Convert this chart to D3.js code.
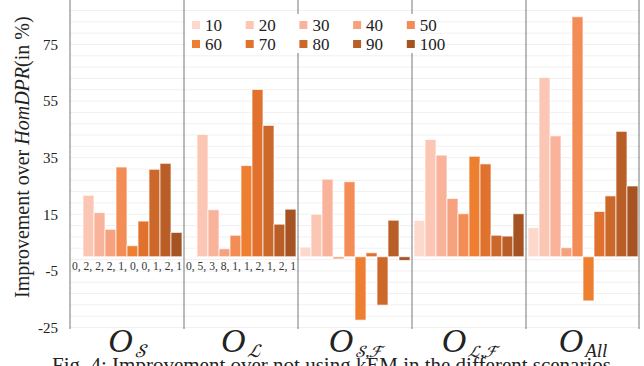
<!DOCTYPE html>
<html><head><meta charset="utf-8">
<script src="https://cdn.jsdelivr.net/npm/d3@7/dist/d3.min.js"></script>
<style>
html,body{margin:0;padding:0;background:#fff;overflow:hidden;}
svg{display:block;}
</style></head>
<body><svg id="c" width="644" height="366"></svg>
<script>
const seriesNames = ["10","20","30","40","50","60","70","80","90","100"];
const seriesColors = ["#fdd8cc","#fbc6b4","#f9b39b","#f7a27f","#f48d55","#ee7f31","#e0722d","#cc6829","#b95e26","#a55322"];
const groups = ["OS","OL","OSF","OLF","OAll"];
const valuesOS   = [0, 21.7, 15.6, 9.7, 31.7, 3.9, 12.6, 30.9, 33.0, 8.6];
const valuesOL   = [0, 43.2, 16.6, 2.8, 7.6, 32.2, 59.1, 46.4, 11.5, 16.8];
const valuesOSF  = [3.4, 15.0, 27.4, -0.8, 26.5, -22.4, 1.4, -17.1, 12.9, -1.3];
const valuesOLF  = [12.8, 41.4, 35.9, 20.6, 15.2, 35.5, 32.8, 7.6, 7.3, 15.2];
const valuesOAll = [10.3, 63.3, 42.7, 3.2, 84.8, -15.6, 16.0, 21.5, 44.3, 25.0];
const annotations = ["0, 2, 2, 2, 1, 0, 0, 1, 2, 1", "0, 5, 3, 8, 1, 1, 2, 1, 2, 1", "", "", ""];
const yTicks = [-25, -5, 15, 35, 55, 75];
const groupSubs = ["𝒮", "ℒ", "𝒮,ℱ", "ℒ,ℱ", "All"];

const SERIF = "'Liberation Serif', 'Times New Roman', serif";
const MATH = "'STIX Two Math', 'Liberation Serif', serif";
const allValues = [valuesOS, valuesOL, valuesOSF, valuesOLF, valuesOAll];
const svg = d3.select("#c").style("font-family", SERIF);

const x0 = d3.scaleBand().domain(groups).range([70, 640]).padding(0);
const x1 = d3.scaleBand().domain(seriesNames).range([2, 112]).padding(0);
const y = d3.scaleLinear().domain([-25, 90]).range([327.5, 2]);
const color = d3.scaleOrdinal().domain(seriesNames).range(seriesColors);

// faint gridlines
const grid = d3.range(-25, 90, 4);
svg.append("g").selectAll("line").data(grid).join("line")
  .attr("x1", 70).attr("x2", 640)
  .attr("y1", d => y(d)).attr("y2", d => y(d))
  .attr("stroke", "#f0f0f0").attr("stroke-width", 1);

// y axis labels
const yAxis = d3.axisLeft(y).tickValues(yTicks).tickSize(0).tickPadding(0).tickFormat(d => String(d));
const ya = svg.append("g").attr("transform", "translate(58,0)").call(yAxis);
ya.select(".domain").remove();
ya.attr("font-family", null);
ya.selectAll("text").style("font-family", SERIF).attr("font-size", 15).attr("fill", "#222");

// y title
const yt = svg.append("text")
  .attr("transform", "translate(29,298) rotate(-90)")
  .style("font-family", SERIF)
  .attr("font-size", 20).attr("fill", "#222");
yt.append("tspan").text("Improvement over ");
yt.append("tspan").attr("font-style", "italic").text("HomDPR");
yt.append("tspan").text("(in %)");

// bars
const gGroups = svg.append("g").selectAll("g").data(groups).join("g")
  .attr("transform", d => `translate(${x0(d)},0)`);
gGroups.selectAll("rect").data((d, i) => allValues[i].map((v, j) => ({s: seriesNames[j], v})))
  .join("rect")
  .attr("x", d => x1(d.s)).attr("width", x1.bandwidth())
  .attr("y", d => y(Math.max(0, d.v)))
  .attr("height", d => Math.abs(y(d.v) - y(0)))
  .attr("fill", d => color(d.s))
  .attr("stroke", "#fff").attr("stroke-opacity", 0.7).attr("stroke-width", 1);

// annotation texts
gGroups.filter((d, i) => annotations[i] !== "").append("text")
  .attr("x", 2).attr("y", 270)
  .style("font-family", SERIF)
  .attr("font-size", 13).attr("fill", "#333")
  .attr("textLength", 110).attr("lengthAdjust", "spacingAndGlyphs")
  .text(d => annotations[groups.indexOf(d)]);

// panel divider lines
svg.append("g").selectAll("line").data(d3.range(6)).join("line")
  .attr("x1", i => i < 5 ? x0(groups[i]) : x0(groups[4]) + x0.bandwidth() - 1)
  .attr("x2", i => i < 5 ? x0(groups[i]) : x0(groups[4]) + x0.bandwidth() - 1)
  .attr("y1", 0).attr("y2", 329)
  .attr("stroke", "#777").attr("stroke-width", 1);

// legend
const lg = svg.append("g");
lg.append("rect").attr("x", 186).attr("y", 14).attr("width", 234).attr("height", 39).attr("fill", "#fff");
const li = lg.selectAll("g").data(seriesNames).join("g")
  .attr("transform", (d, i) => `translate(${192 + (i % 5) * 53.7},${i < 5 ? 25 : 44})`);
li.append("rect").attr("x", 0).attr("y", -4).attr("width", 8).attr("height", 8).attr("fill", d => color(d));
li.append("text").attr("x", 13).attr("y", 5.5).style("font-family", SERIF)
  .attr("font-size", 17).attr("fill", "#222").text(d => d);

// group labels
const gl = svg.append("g").selectAll("text").data(groups).join("text")
  .attr("x", d => x0(d) + x0.bandwidth() / 2).attr("y", 352)
  .attr("text-anchor", "middle").attr("fill", "#222");
gl.append("tspan").style("font-family", SERIF).attr("font-size", 34).attr("font-style", "italic").text("O");
gl.append("tspan").attr("dy", 5).attr("dx", 2)
  .style("font-family", (d, i) => i === 4 ? SERIF : MATH)
  .attr("font-size", (d, i) => (i === 2 || i === 3) ? 17 : 19).attr("font-style", "italic")
  .text((d, i) => groupSubs[i]);

// caption (clipped at bottom, as in the reference)
svg.append("text").attr("x", 52).attr("y", 372).style("font-family", SERIF).attr("font-size", 21).attr("fill", "#222")
  .text("Fig. 4: Improvement over not using kEM in the different scenarios");
</script></body></html>
